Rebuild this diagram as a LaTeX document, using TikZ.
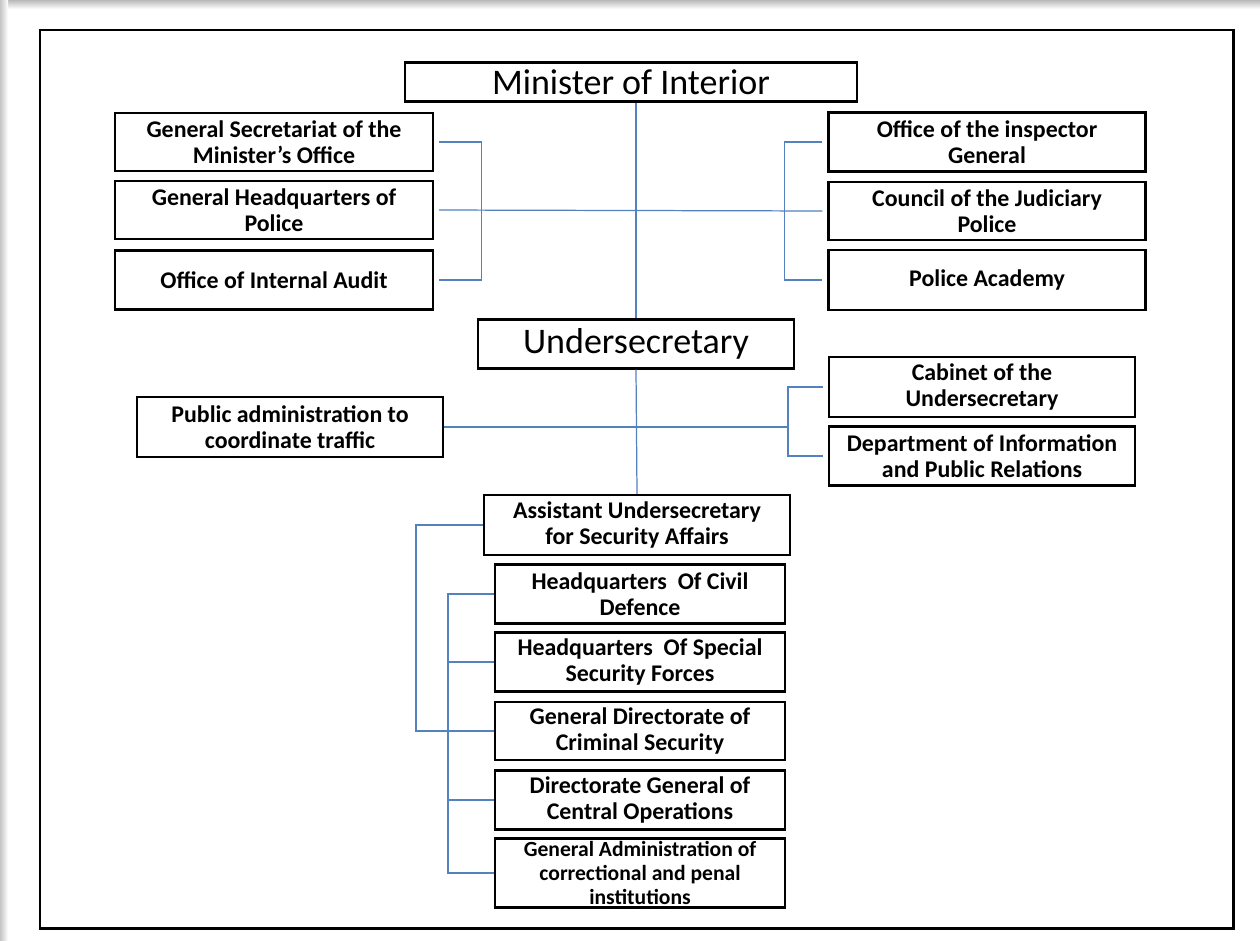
\documentclass[tikz,border=0pt]{standalone}
\usepackage{fontspec}
\setmainfont{Carlito}
\usepackage{tikz}
\usetikzlibrary{positioning}
\definecolor{linkblue}{RGB}{84,130,190}

\begin{document}
\begin{tikzpicture}[x=0.02cm,y=-0.02cm]
    \tikzset{
    unit/.style={
        draw, line width=1.3pt, align=center, inner sep=0pt,
        font=\fontsize{13.6}{14.8}\selectfont\bfseries
    },
    head/.style={
        draw, line width=1.3pt, align=center, inner sep=0pt,
        font=\fontsize{20.5}{22}\selectfont
    },
    link/.style={linkblue, line width=0.7pt}
    }
        \useasboundingbox (0,0) rectangle (1260,940);
        \fill[white] (0,0) rectangle (1260,940);
        \shade[top color=gray!55, bottom color=white] (0,0) rectangle (1260,9);
        \shade[left color=gray!45, right color=white] (0,0) rectangle (8,940);
        \draw[line width=1.7pt] (40,30) rectangle (1233,928);

        \node (mini)[head, minimum width=9.04cm, minimum height=0.78cm] at (631,82) {Minister of Interior};
        \node (gsec)[unit, minimum width=6.36cm, minimum height=1.16cm] at (274,142) {General Secretariat of the\\Minister's Office};
        \node (ghq)[unit, minimum width=6.36cm, minimum height=1.16cm] at (274,210) {General Headquarters of\\Police};
        \node (oia)[unit, minimum width=6.36cm, minimum height=1.18cm] at (274,280) {Office of Internal Audit};
        \node (insp)[unit, minimum width=6.34cm, minimum height=1.18cm] at (987,142) {Office of the inspector\\General};
        \node (judp)[unit, minimum width=6.34cm, minimum height=1.16cm] at (987,211) {Council of the Judiciary\\Police};
        \node (acad)[unit, minimum width=6.34cm, minimum height=1.2cm] at (987,280) {Police Academy};

        \node (under)[head, minimum width=6.32cm, minimum height=0.98cm] at (636,344) {Undersecretary};
        \node (traf)[unit, minimum width=6.12cm, minimum height=1.2cm] at (290,427) {Public administration to\\coordinate traffic};
        \node (cabi)[unit, minimum width=6.12cm, minimum height=1.2cm] at (982,387) {Cabinet of the\\Undersecretary};
        \node (info)[unit, minimum width=6.12cm, minimum height=1.18cm] at (982,456) {Department of Information\\and Public Relations};

        \node (asst)[unit, minimum width=6.12cm, minimum height=1.2cm] at (637,525) {Assistant Undersecretary\\for Security Affairs};
        \node (civil)[unit, minimum width=5.8cm, minimum height=1.18cm] at (640,594) {Headquarters~ Of Civil\\Defence};
        \node (spec)[unit, minimum width=5.8cm, minimum height=1.18cm] at (640,662) {Headquarters~ Of Special\\Security Forces};
        \node (crim)[unit, minimum width=5.8cm, minimum height=1.16cm] at (640,731) {General Directorate of\\Criminal Security};
        \node (oper)[unit, minimum width=5.8cm, minimum height=1.18cm] at (640,800) {Directorate General of\\Central Operations};
        \node (corr)[unit, minimum width=5.8cm, minimum height=1.38cm,
            font=\fontsize{12.3}{13.4}\selectfont\bfseries] at (640,873) {General Administration of\\correctional and penal\\institutions};

        % upper level
        \draw[link] (under.north |- mini.south) -- (under.north);
        \draw[link, shorten <=1mm, shorten >=1mm] (gsec.east) -- ++(47,0) |- (oia.east);
        \draw[link, shorten <=1mm, shorten >=1mm] (ghq.east) -- (judp.west);
        \draw[link, shorten <=1mm, shorten >=1mm] (insp.west) -- ++(-43,0) |- (acad.west);

        % undersecretary level
        \draw[link] (under.south) -- (asst.north);
        \draw[link] (traf.east) -- (787,427);
        \draw[link, shorten <=1mm, shorten >=1mm] (cabi.west) -- ++(-40,0) |- (info.west);

        % security affairs
        \draw[link] (asst.west) -- ++(-67,0) |- (crim.west);
        \draw[link] (civil.west) -- ++(-46,0) |- (corr.west);
        \foreach \n in {spec,oper}
            \draw[link] (\n.west) -- ++(-46,0);

    \end{tikzpicture}
\end{document}
